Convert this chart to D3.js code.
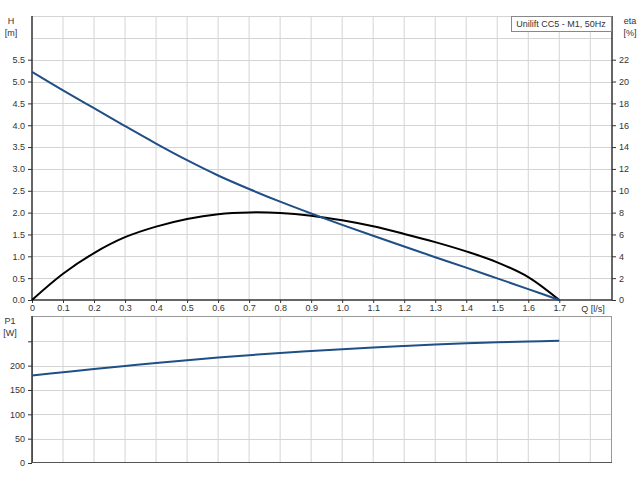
<!DOCTYPE html>
<html><head><meta charset="utf-8">
<script src="https://cdn.jsdelivr.net/npm/d3@7"></script>
<style>body{margin:0;background:#fff}svg{display:block}text{font-family:"Liberation Sans",Arial,sans-serif;font-size:9px;fill:#333}</style>
</head><body><svg id="c" width="640" height="480"></svg>
<script>
const qTicks = [0,0.1,0.2,0.3,0.4,0.5,0.6,0.7,0.8,0.9,1.0,1.1,1.2,1.3,1.4,1.5,1.6,1.7];
const hTicks = [0,0.5,1,1.5,2,2.5,3,3.5,4,4.5,5,5.5];
const etaTicks = [0,2,4,6,8,10,12,14,16,18,20,22];
const pTicks = [0,50,100,150,200];
const qData = [0,0.1,0.2,0.3,0.4,0.5,0.6,0.7,0.8,0.9,1.0,1.1,1.2,1.3,1.4,1.5,1.6,1.7];
const hData = [5.22,4.80,4.39,3.98,3.58,3.20,2.85,2.54,2.25,1.98,1.72,1.47,1.225,0.98,0.74,0.495,0.25,0];
const etaData = [0,2.4,4.3,5.75,6.72,7.42,7.86,8.02,7.97,7.72,7.3,6.75,6.05,5.3,4.45,3.45,2.1,0];
const pData = [180,186.5,193,199.3,205.5,211.3,216.7,221.5,226,230,233.8,237.3,240.5,243.3,245.8,247.9,249.6,251];
const title = "Unilift CC5 - M1, 50Hz";

const svg = d3.select("#c");
const L = 32, R = 612;
const x = d3.scaleLinear().domain([0,1.87]).range([L,R]);
const yH = d3.scaleLinear().domain([0,6.5]).range([300,16]);
const yE = d3.scaleLinear().domain([0,26]).range([300,16]);
const yP = d3.scaleLinear().domain([0,302]).range([463,316]);
const gridC = "#d4d4d4";
const vGrid = d3.range(1,19).map(i=>i/10);

// top grid
const gt = svg.append("g");
gt.selectAll("line.v").data(vGrid).join("line").attr("x1",d=>x(d)).attr("x2",d=>x(d)).attr("y1",16).attr("y2",300).attr("stroke",gridC);
gt.selectAll("line.h").data(d3.range(1,14).map(i=>i*0.5)).join("line").attr("x1",L).attr("x2",R).attr("y1",d=>Math.round(yH(d))+0.5).attr("y2",d=>Math.round(yH(d))+0.5).attr("stroke",gridC);
// bottom grid
const gb = svg.append("g");
gb.selectAll("line.v").data(vGrid).join("line").attr("x1",d=>x(d)).attr("x2",d=>x(d)).attr("y1",316).attr("y2",463).attr("stroke",gridC);
gb.selectAll("line.h").data([50,100,150,200,250]).join("line").attr("x1",L).attr("x2",R).attr("y1",d=>Math.round(yP(d))+0.5).attr("y2",d=>Math.round(yP(d))+0.5).attr("stroke",gridC);
svg.append("rect").attr("x",L+0.5).attr("y",316.5).attr("width",R-L-1).attr("height",146).attr("fill","none").attr("stroke","#999");

// axes
const axL = svg.append("g").attr("transform",`translate(${L},0)`).call(d3.axisLeft(yH).tickValues(hTicks).tickFormat(d3.format(".1f")).tickSize(4).tickPadding(3));
const axR = svg.append("g").attr("transform",`translate(${R},0)`).call(d3.axisRight(yE).tickValues(etaTicks).tickSize(4).tickPadding(3));
const axB = svg.append("g").attr("transform",`translate(0,300)`).call(d3.axisBottom(x).tickValues(qTicks).tickFormat(d=>d===0?"0":d3.format(".1f")(d)).tickSize(3).tickPadding(2));
const axP = svg.append("g").attr("transform",`translate(${L},0)`).call(d3.axisLeft(yP).tickValues([0,50,100,150,200,250]).tickFormat(d=>pTicks.includes(d)?String(d):"").tickSize(4).tickPadding(3));
svg.append("line").attr("x1",L).attr("x2",R).attr("y1",462.5).attr("y2",462.5).attr("stroke","#555");
[axL,axR,axB,axP].forEach(a=>{a.selectAll(".domain").attr("stroke","#333").attr("stroke-width",1.5);a.selectAll(".tick line").attr("stroke","#333");a.selectAll("text").attr("fill","#333").style("font-size","9px").attr("font-family","Liberation Sans, Arial, sans-serif");});
axL.select(".domain").attr("d","M0,16V300");
axR.select(".domain").attr("d","M0,16V300");
axB.select(".domain").attr("d",`M${L},0H${R}`);
axP.select(".domain").attr("d","M0,316V463");

// labels
const lab=(t,xx,yy,anchor)=>svg.append("text").attr("x",xx).attr("y",yy).attr("text-anchor",anchor||"middle").text(t);
lab("H",11,24); lab("[m]",11,36);
lab("eta",630,24); lab("[%]",630,36);
lab("P1",10,324); lab("[W]",10,336);
lab("Q [l/s]",593,312);
// title box
svg.append("rect").attr("x",511.5).attr("y",16.5).attr("width",100).attr("height",15).attr("fill","#fff").attr("stroke","#888");
lab(title,561,27);

// curves
const lineH = d3.line().x((d,i)=>x(qData[i])).y(d=>yH(d)).curve(d3.curveCatmullRom);
const lineE = d3.line().x((d,i)=>x(qData[i])).y(d=>yE(d)).curve(d3.curveCatmullRom);
const lineP = d3.line().x((d,i)=>x(qData[i])).y(d=>yP(d)).curve(d3.curveCatmullRom);
svg.append("path").attr("d",lineE(etaData)).attr("fill","none").attr("stroke","#000").attr("stroke-width",2);
svg.append("path").attr("d",lineH(hData)).attr("fill","none").attr("stroke","#1f4f86").attr("stroke-width",2);
svg.append("path").attr("d",lineP(pData)).attr("fill","none").attr("stroke","#1f4f86").attr("stroke-width",2);
</script></body></html>
